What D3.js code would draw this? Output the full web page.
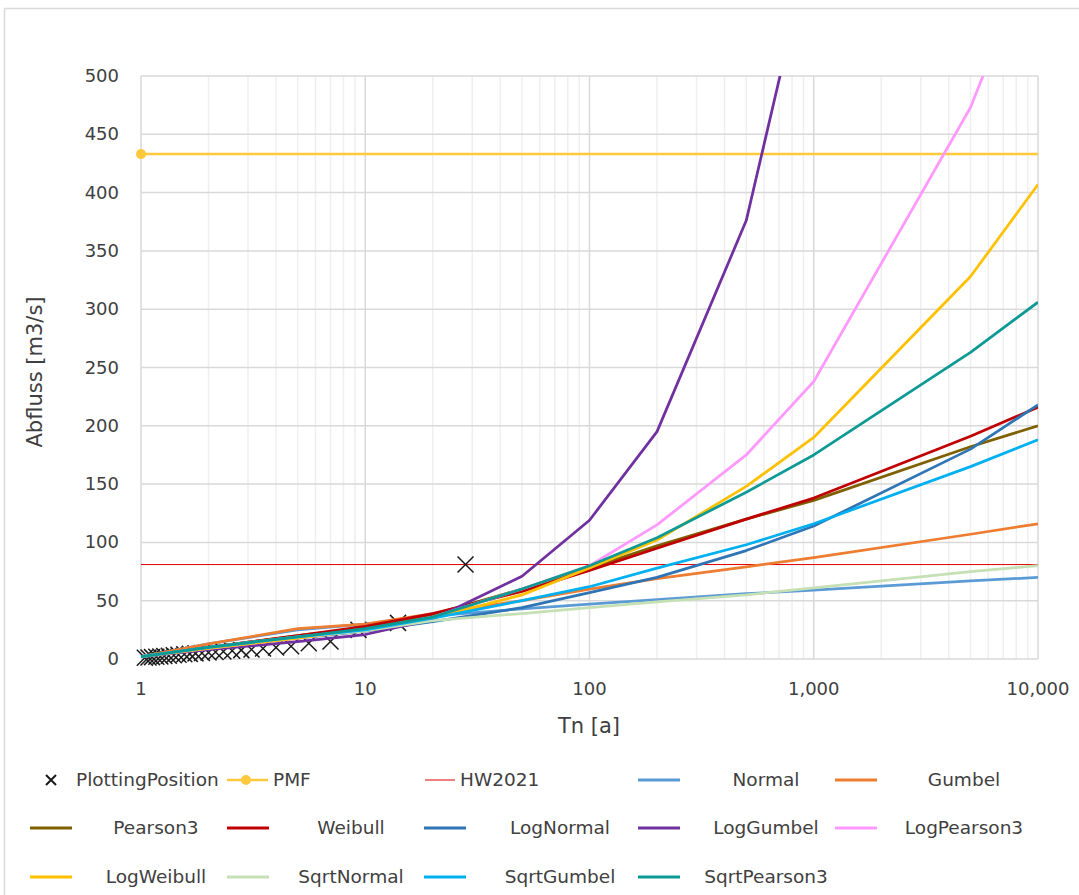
<!DOCTYPE html>
<html>
<head>
<meta charset="utf-8">
<script src="https://cdn.jsdelivr.net/npm/d3@7"></script>
<style>
  body { margin: 0; background: #fff; }
  svg text { font-family: "DejaVu Sans", sans-serif; fill: #404040; }
</style>
</head>
<body>
<div id="root"></div>
<script>
const width = 1079,
      height = 895

// return periods used for the fitted distributions
const returnPeriods = [1, 2, 5, 10, 20, 50, 100, 200, 500, 1000, 5000, 10000]

const normal      = [2, 13, 25, 30, 37, 43, 47, 51, 56, 59, 67, 70]
const gumbel      = [2, 13, 26, 30, 39, 50, 60, 69, 79, 87, 107, 116]
const pearson3    = [2, 10, 20, 27, 38, 60, 78, 97, 120, 136, 182, 200]
const weibull     = [2, 10, 20, 28, 39, 58, 76, 95, 120, 138, 191, 216]
const logNormal   = [2, 9, 18, 24, 32, 44, 57, 70, 93, 114, 180, 218]
const logGumbel   = [2, 8, 15, 21, 34, 71, 119, 195, 376, 624, 1400, 1700]
const logPearson3 = [2, 9, 18, 25, 36, 60, 80, 115, 175, 238, 473, 619]
const logWeibull  = [2, 9, 18, 25, 35, 55, 78, 102, 148, 190, 328, 407]
const sqrtNormal  = [2, 10, 19, 24, 33, 39, 44, 49, 55, 61, 75, 80]
const sqrtGumbel  = [2, 10, 19, 25, 35, 50, 62, 78, 98, 116, 165, 188]
const sqrtPearson3 = [2, 10, 19, 26, 36, 60, 80, 104, 143, 175, 263, 306]

// empirical plotting positions (T, Q)
const ppT = [28, 14, 9.33, 7, 5.6, 4.67, 4, 3.5, 3.11, 2.8, 2.55, 2.33, 2.15, 2,
             1.87, 1.75, 1.65, 1.56, 1.47, 1.4, 1.33, 1.27, 1.22, 1.17, 1.12, 1.08, 1.04]
const ppQ = [81, 31, 25, 15, 13.5, 11, 9.8, 9, 8.2, 7.6, 7, 6.5, 6, 5.6,
             5.2, 4.8, 4.4, 4, 3.6, 3.2, 2.8, 2.5, 2.2, 1.9, 1.6, 1.3, 1]

const pmf = 433
const hw2021 = 81

const seriesNames = ['Normal', 'Gumbel', 'Pearson3', 'Weibull', 'LogNormal', 'LogGumbel',
                     'LogPearson3', 'LogWeibull', 'SqrtNormal', 'SqrtGumbel', 'SqrtPearson3']
const seriesValues = [normal, gumbel, pearson3, weibull, logNormal, logGumbel,
                      logPearson3, logWeibull, sqrtNormal, sqrtGumbel, sqrtPearson3]
const seriesColors = ['#5B9BD5', '#ED7D31', '#7F6000', '#C00000', '#2E75B6', '#7030A0',
                      '#FF99FF', '#FFC000', '#C5E0B4', '#00B0F0', '#0E9A94']

const xTicks = [1, 10, 100, 1000, 10000]
const yTicks = [0, 50, 100, 150, 200, 250, 300, 350, 400, 450, 500]

const margin = { left: 141, right: 1038, top: 76, bottom: 659 }

const svg = d3.select('#root')
  .append('svg')
  .attr('width', width)
  .attr('height', height)

svg.append('rect')
  .attr('x', 4.5).attr('y', 8.5)
  .attr('width', 1100).attr('height', 900)
  .attr('fill', 'none')
  .attr('stroke', '#d9d9d9')
  .attr('stroke-width', 1.5)

const x = d3.scaleLog().domain([1, 10000]).range([margin.left, margin.right])
const y = d3.scaleLinear().domain([0, 500]).range([margin.bottom, margin.top])

// grid
const minor = []
for (let e = 0; e < 4; e++) for (let k = 2; k <= 9; k++) minor.push(k * Math.pow(10, e))

const grid = svg.append('g')
grid.selectAll('.minor')
  .data(minor)
  .enter().append('line')
  .attr('x1', d => x(d)).attr('x2', d => x(d))
  .attr('y1', y(0)).attr('y2', y(500))
  .attr('stroke', '#efefef').attr('stroke-width', 1.5)
grid.selectAll('.hgrid')
  .data(yTicks)
  .enter().append('line')
  .attr('x1', x(1)).attr('x2', x(10000))
  .attr('y1', d => y(d)).attr('y2', d => y(d))
  .attr('stroke', '#d9d9d9').attr('stroke-width', 1.5)
grid.selectAll('.major')
  .data(xTicks)
  .enter().append('line')
  .attr('x1', d => x(d)).attr('x2', d => x(d))
  .attr('y1', y(0)).attr('y2', y(500))
  .attr('stroke', '#d9d9d9').attr('stroke-width', 1.5)

// tick labels
svg.append('g').selectAll('text')
  .data(yTicks)
  .enter().append('text')
  .attr('x', 119).attr('y', d => y(d) + 6)
  .attr('text-anchor', 'end')
  .attr('font-size', 18)
  .text(d => d)

svg.append('g').selectAll('text')
  .data(xTicks)
  .enter().append('text')
  .attr('x', d => x(d)).attr('y', 695)
  .attr('text-anchor', 'middle')
  .attr('font-size', 18)
  .text(d => d3.format(',')(d))

svg.append('text')
  .attr('x', 589).attr('y', 733)
  .attr('text-anchor', 'middle')
  .attr('font-size', 21)
  .text('Tn [a]')

svg.append('text')
  .attr('transform', 'translate(42, 372) rotate(-90)')
  .attr('text-anchor', 'middle')
  .attr('font-size', 21)
  .text('Abfluss [m3/s]')

// plot
svg.append('clipPath').attr('id', 'plotClip')
  .append('rect')
  .attr('x', margin.left - 8).attr('y', margin.top)
  .attr('width', margin.right - margin.left + 16).attr('height', margin.bottom - margin.top + 10)

const plot = svg.append('g').attr('clip-path', 'url(#plotClip)')

plot.append('line')
  .attr('x1', x(1)).attr('x2', x(10000))
  .attr('y1', y(hw2021)).attr('y2', y(hw2021))
  .attr('stroke', '#E00000').attr('stroke-width', 1)

plot.append('line')
  .attr('x1', x(1)).attr('x2', x(10000))
  .attr('y1', y(pmf)).attr('y2', y(pmf))
  .attr('stroke', '#FFC83D').attr('stroke-width', 2.5)
plot.append('circle')
  .attr('cx', x(1)).attr('cy', y(pmf)).attr('r', 5)
  .attr('fill', '#FFC83D')

const line = d3.line()
  .x((d, i) => x(returnPeriods[i]))
  .y(d => y(d))

svg.append('clipPath').attr('id', 'lineClip')
  .append('rect')
  .attr('x', margin.left).attr('y', margin.top)
  .attr('width', margin.right - margin.left).attr('height', margin.bottom - margin.top)

svg.append('g').attr('clip-path', 'url(#lineClip)')
  .selectAll('path')
  .data(seriesValues)
  .enter().append('path')
  .attr('d', d => line(d))
  .attr('fill', 'none')
  .attr('stroke', (d, i) => seriesColors[i])
  .attr('stroke-width', 2.75)
  .attr('stroke-linejoin', 'round')

// plotting position crosses
plot.selectAll('.pp')
  .data(ppT)
  .enter().append('path')
  .attr('transform', (d, i) => `translate(${x(d)}, ${y(ppQ[i])})`)
  .attr('d', 'M-8,-8L8,8M-8,8L8,-8')
  .attr('stroke', '#1a1a1a').attr('stroke-width', 1.5)
  .attr('fill', 'none')

// legend
const colX = [30, 227, 424, 638, 835]
const colTextOffset = [126, 124, 136, 128, 129]
const rowY = [780, 828, 877]

const legend = svg.append('g').attr('font-size', 18.5)

// first row: PlottingPosition, PMF, HW2021 (left aligned)
legend.append('path')
  .attr('transform', `translate(51, ${rowY[0]})`)
  .attr('d', 'M-5,-5L5,5M-5,5L5,-5')
  .attr('stroke', '#1a1a1a').attr('stroke-width', 2)
legend.append('text').attr('x', 76).attr('y', rowY[0] + 6).text('PlottingPosition')

legend.append('line')
  .attr('x1', 227).attr('x2', 268).attr('y1', rowY[0]).attr('y2', rowY[0])
  .attr('stroke', '#FFC83D').attr('stroke-width', 2.5)
legend.append('circle').attr('cx', 246).attr('cy', rowY[0]).attr('r', 5).attr('fill', '#FFC83D')
legend.append('text').attr('x', 273).attr('y', rowY[0] + 6).text('PMF')

legend.append('line')
  .attr('x1', 425).attr('x2', 455).attr('y1', rowY[0]).attr('y2', rowY[0])
  .attr('stroke', '#E00000').attr('stroke-width', 1)
legend.append('text').attr('x', 460).attr('y', rowY[0] + 6).text('HW2021')

seriesNames.forEach((name, i) => {
  const slot = i + 3
  const col = slot % 5
  const row = Math.floor(slot / 5)
  legend.append('line')
    .attr('x1', colX[col]).attr('x2', colX[col] + 42)
    .attr('y1', rowY[row]).attr('y2', rowY[row])
    .attr('stroke', seriesColors[i]).attr('stroke-width', 3)
  legend.append('text')
    .attr('x', colX[col] + colTextOffset[col]).attr('y', rowY[row] + 6)
    .attr('text-anchor', 'middle')
    .text(name)
})
</script>
</body>
</html>
